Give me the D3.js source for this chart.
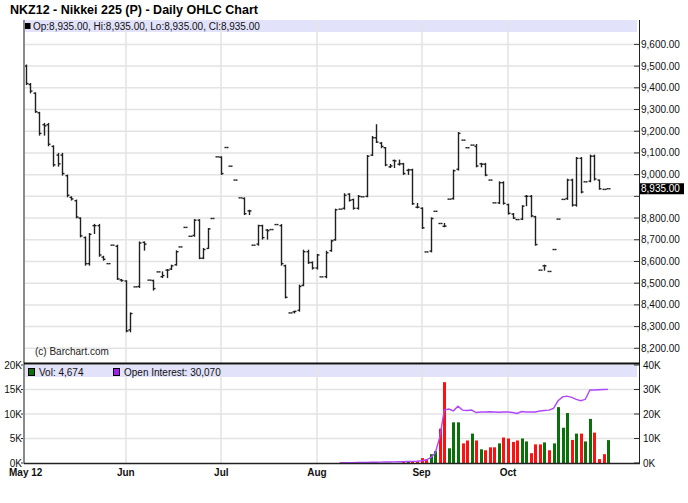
<!DOCTYPE html>
<html><head><meta charset="utf-8">
<script src="https://cdn.jsdelivr.net/npm/d3@7"></script>
<style>
body{margin:0;background:#fff;}
svg{display:block;font-family:"Liberation Sans",Arial,sans-serif;}
</style></head><body>
<svg id="chart" width="688" height="503"></svg>
<script>
const title = "NKZ12 - Nikkei 225 (P) - Daily OHLC Chart";
const open = [9500,9415,9375,9285,9230,9230,9130,9090,9090,8995,
8895,8880,8800,8710,8590,8765,8765,8620,8590,8675,
8670,8515,8510,8285,8483,8485,8688,8514,8512,8552,
8530,8560,8565,8585,8667,8757,8716,8720,8790,8615,
8660,8798,9082,9080,9125,9039,8975,8893,8890,8833,
8675,8680,8765,8745,8747,8770,8765,8580,8363,8368,
8375,8490,8645,8595,8570,8529,8530,8650,8700,8841,
8845,8910,8885,8845,8898,8900,9090,9170,9145,9124,
9036,9065,9048,9050,9020,9022,8850,8845,8644,8648,
8831,8775,8762,8887,8890,9025,9159,9124,9136,9130,
9050,9048,8975,8870,8870,8963,8862,8818,8793,8795,
8900,8900,8806,8560,8580,8554,8655,8795,8886,8890,
8975,8860,9075,8967,8970,9085,8975,8932,8935];
const high = [9505,9420,9377,9287,9236,9236,9133,9098,9098,8998,
8898,8883,8801,8713,8729,8771,8771,8624,8590,8675,
8675,8517,8511,8363,8483,8690,8690,8514,8514,8552,
8552,8563,8583,8649,8667,8757,8716,8793,8793,8660,
8752,8798,9082,9082,9125,9039,8975,8893,8893,8836,
8675,8767,8767,8747,8747,8770,8770,8583,8363,8371,
8491,8652,8652,8598,8632,8529,8647,8698,8841,8841,
8912,8912,8887,8904,8898,9088,9176,9230,9148,9125,
9047,9067,9067,9052,9025,9025,8867,8847,8644,8801,
8831,8775,8775,8887,9021,9194,9159,9124,9136,9139,
9052,9052,8975,8870,8967,8967,8864,8821,8793,8857,
8904,8904,8808,8560,8583,8554,8655,8795,8886,8979,
8979,9079,9079,8967,9090,9090,8975,8932,8935];
const low = [9415,9377,9287,9182,9182,9133,9039,9039,8998,8898,
8883,8801,8713,8583,8583,8729,8624,8606,8590,8675,
8517,8509,8276,8276,8483,8480,8652,8514,8468,8552,
8526,8526,8563,8583,8667,8757,8716,8716,8613,8613,
8660,8798,9082,9001,9125,9039,8975,8893,8816,8816,
8675,8675,8703,8703,8747,8770,8583,8432,8363,8363,
8371,8488,8591,8565,8565,8529,8525,8647,8698,8841,
8841,8878,8841,8841,8898,8898,9088,9148,9124,9041,
9033,9033,9044,9001,9001,8863,8847,8752,8644,8644,
8831,8775,8760,8887,8887,9021,9159,9124,9136,9036,
9036,8995,8975,8870,8867,8864,8818,8798,8793,8793,
8857,8806,8675,8560,8560,8554,8655,8795,8886,8886,
8855,8855,8916,8967,8967,8975,8933,8932,8935];
const close = [9420,9385,9290,9190,9225,9140,9045,9050,9005,8905,
8888,8805,8718,8590,8725,8765,8630,8610,8590,8675,
8520,8512,8280,8360,8483,8685,8680,8514,8475,8552,
8535,8560,8580,8645,8667,8757,8716,8790,8615,8655,
8750,8798,9082,9005,9125,9039,8975,8893,8820,8833,
8675,8765,8710,8742,8747,8770,8590,8435,8363,8370,
8485,8645,8595,8570,8630,8529,8640,8695,8838,8841,
8905,8882,8845,8900,8898,9085,9170,9150,9130,9045,
9040,9063,9050,9005,9022,8866,8850,8755,8644,8798,
8831,8775,8763,8887,9018,9190,9159,9124,9136,9040,
9048,8998,8975,8870,8963,8868,8822,8800,8793,8855,
8900,8810,8678,8560,8580,8554,8655,8795,8886,8975,
8860,9075,8920,8967,9085,8980,8935,8932,8935];
// volume exists from day 83 onward
const volume = [...Array(83).fill(null),
200,400,200,300,1000,800,1800,2400,7000,16500,
3000,8300,8300,4000,4600,6000,4600,2800,2600,3200,
3200,4000,5200,5000,4300,4600,5000,4400,2000,3800,
3800,4200,2600,4000,11400,7200,10200,4700,6000,6000,
4400,9000,6200,800,1800,4674];
// open interest exists from day 69 onward
const openInterest = [...Array(69).fill(null),
100,100,150,150,200,200,250,300,300,350,400,400,450,500,
500,600,650,700,900,1200,2200,4000,10500,
21600,22000,21300,23200,21600,21400,21600,20600,20800,20800,
20900,20800,20700,20800,20800,20600,20200,21000,20800,20800,
20800,21200,21400,21600,22300,25400,27000,27300,26800,26000,
25400,26000,29800,29800,29900,30000,30070];
const monthLabels = ["May 12","Jun","Jul","Aug","Sep","Oct"];
const monthStart = [0,22,43,64,87,106];
const priceTicks = [8200,8300,8400,8500,8600,8700,8800,8900,9000,9100,9200,9300,9400,9500,9600];
const volTicks = [0,5000,10000,15000,20000];
const oiTicks = [0,10000,20000,30000,40000];

const svg = d3.select("#chart");
const L = 24, R = 639, T = 20, mainBottom = 363, volTop = 365, volBottom = 463;
const n = close.length;
const x = d3.scaleLinear().domain([0, n - 1]).range([25.7, 608.1]);
const y = d3.scaleLinear().domain([8200, 9600]).range([348.3, 44.4]);
const yV = d3.scaleLinear().domain([0, 20000]).range([volBottom, volTop]);
const yOI = d3.scaleLinear().domain([0, 40000]).range([volBottom, volTop]);
const fmtP = d3.format(",.2f"), fmtI = d3.format(",");
const fmtK = v => (v / 1000) + "K";
const gridC = "#e3e3e3";

// title
svg.append("text").attr("x", 10).attr("y", 14).attr("font-size", 12.5).attr("font-weight", "bold")
  .attr("fill", "#000").text(title);

// ===== main panel =====
// legend band
svg.append("rect").attr("x", L + 1).attr("y", T).attr("width", R - L - 3).attr("height", 12)
  .attr("fill", "#e2e2fb");
// horizontal grid
svg.append("g").selectAll("line").data(priceTicks).join("line")
  .attr("x1", L).attr("x2", R).attr("y1", d => y(d)).attr("y2", d => y(d))
  .attr("stroke", gridC).attr("stroke-width", 1.5);
// vertical month grid
svg.append("g").selectAll("line").data(monthStart.slice(1)).join("line")
  .attr("x1", d => Math.round(x(d))).attr("x2", d => Math.round(x(d)))
  .attr("y1", T).attr("y2", mainBottom)
  .attr("stroke", gridC).attr("stroke-width", 1.5);

// legend text
const last = n - 1;
svg.append("rect").attr("x", 25).attr("y", 23).attr("width", 5.5).attr("height", 6).attr("fill", "#000");
svg.append("text").attr("x", 33).attr("y", 29.5).attr("font-size", 10).attr("fill", "#111")
  .text(`Op:${fmtP(open[last])}, Hi:${fmtP(high[last])}, Lo:${fmtP(low[last])}, Cl:${fmtP(close[last])}`);

// OHLC bars
const bars = svg.append("g").attr("stroke", "#202020").attr("stroke-width", 1.4);
d3.range(n).forEach(i => {
  const cx = Math.round(x(i)) + 0.5;
  const g = bars.append("g");
  if (high[i] !== low[i]) {
    g.append("line").attr("x1", cx).attr("x2", cx).attr("y1", y(high[i]) - 0.5).attr("y2", y(low[i]) + 0.5);
  }
  g.append("line").attr("x1", cx - 2).attr("x2", cx).attr("y1", y(open[i])).attr("y2", y(open[i]));
  g.append("line").attr("x1", cx).attr("x2", cx + 2).attr("y1", y(close[i])).attr("y2", y(close[i]));
});

// copyright
svg.append("text").attr("x", 35).attr("y", 355).attr("font-size", 10).attr("fill", "#222").text("(c) Barchart.com");

// right price axis
svg.append("g").selectAll("line").data(priceTicks).join("line")
  .attr("x1", R - 5).attr("x2", R).attr("y1", d => y(d)).attr("y2", d => y(d))
  .attr("stroke", "#333").attr("stroke-width", 1);
const lastY = y(close[last]);
svg.append("g").selectAll("text").data(priceTicks.filter(d => Math.abs(y(d) - lastY) > 10)).join("text")
  .attr("x", R + 2).attr("y", d => y(d) + 3.5).attr("font-size", 10).attr("fill", "#111").text(d => fmtP(d));
svg.append("rect").attr("x", R + 1).attr("y", lastY - 5.5).attr("width", 44).attr("height", 11).attr("fill", "#000");
svg.append("text").attr("x", R + 2).attr("y", lastY + 3.5).attr("font-size", 10).attr("fill", "#fff").text(fmtP(close[last]));

// ===== volume panel =====
svg.append("rect").attr("x", L + 1).attr("y", volTop).attr("width", R - L - 3).attr("height", 12)
  .attr("fill", "#e2e2fb");
svg.append("g").selectAll("line").data(volTicks.slice(1, -1)).join("line")
  .attr("x1", L).attr("x2", R).attr("y1", d => yV(d)).attr("y2", d => yV(d))
  .attr("stroke", gridC).attr("stroke-width", 1.5);
svg.append("g").selectAll("line").data(monthStart.slice(1)).join("line")
  .attr("x1", d => Math.round(x(d))).attr("x2", d => Math.round(x(d)))
  .attr("y1", volTop).attr("y2", volBottom)
  .attr("stroke", gridC).attr("stroke-width", 1.5);

// volume bars: green when close rises, red when it falls
svg.append("g").selectAll("rect").data(d3.range(n).filter(i => volume[i] != null)).join("rect")
  .attr("x", i => Math.round(x(i)) - 1).attr("width", 3)
  .attr("y", i => yV(volume[i])).attr("height", i => volBottom - yV(volume[i]))
  .attr("fill", i => (i > 0 && close[i] < close[i - 1]) ? "#ff1010" : "#0a700a");

// open interest line
svg.append("path").datum(d3.range(n))
  .attr("d", d3.line().defined(i => openInterest[i] != null).x(i => x(i)).y(i => yOI(openInterest[i])))
  .attr("fill", "none").attr("stroke", "#b046ff").attr("stroke-width", 1.4);

// volume legend
svg.append("rect").attr("x", 28.5).attr("y", 368.5).attr("width", 6).attr("height", 7)
  .attr("fill", "#0a700a").attr("stroke", "#000").attr("stroke-width", 1);
svg.append("text").attr("x", 39).attr("y", 375.5).attr("font-size", 10).attr("fill", "#111")
  .text(`Vol: ${fmtI(volume[last])}`);
svg.append("rect").attr("x", 113.5).attr("y", 368.5).attr("width", 6).attr("height", 7)
  .attr("fill", "#a020f0").attr("stroke", "#000").attr("stroke-width", 1);
svg.append("text").attr("x", 124).attr("y", 375.5).attr("font-size", 10).attr("fill", "#111")
  .text(`Open Interest: ${fmtI(openInterest[last])}`);

// volume axes
svg.append("g").selectAll("text").data(volTicks).join("text")
  .attr("x", 22).attr("y", d => yV(d) + 3.5).attr("text-anchor", "end").attr("font-size", 10).attr("fill", "#111")
  .text(fmtK);
svg.append("g").selectAll("line").data(volTicks).join("line")
  .attr("x1", L - 3).attr("x2", L).attr("y1", d => yV(d)).attr("y2", d => yV(d)).attr("stroke", "#333");
svg.append("g").selectAll("line").data(oiTicks).join("line")
  .attr("x1", R - 5).attr("x2", R).attr("y1", d => yOI(d)).attr("y2", d => yOI(d)).attr("stroke", "#333");
svg.append("g").selectAll("text").data(oiTicks).join("text")
  .attr("x", R + 4).attr("y", d => yOI(d) + 3.5).attr("font-size", 10).attr("fill", "#111")
  .text(fmtK);

// frame lines
svg.append("line").attr("x1", L).attr("x2", L).attr("y1", T).attr("y2", volBottom)
  .attr("stroke", "#8a8a8a").attr("stroke-width", 2);
svg.append("line").attr("x1", R + 0.5).attr("x2", R + 0.5).attr("y1", T).attr("y2", volBottom)
  .attr("stroke", "#222").attr("stroke-width", 1);
svg.append("line").attr("x1", L).attr("x2", R + 1).attr("y1", mainBottom + 0.5).attr("y2", mainBottom + 0.5)
  .attr("stroke", "#111").attr("stroke-width", 2.2);
svg.append("line").attr("x1", L).attr("x2", R + 1).attr("y1", volBottom + 0.5).attr("y2", volBottom + 0.5)
  .attr("stroke", "#222").attr("stroke-width", 1.5);

// month labels
svg.append("g").selectAll("text").data(monthStart).join("text")
  .attr("x", d => x(d)).attr("y", 476).attr("text-anchor", "middle")
  .attr("font-size", 10).attr("font-weight", "bold").attr("fill", "#111")
  .text((d, i) => monthLabels[i]);
</script>
</body></html>
